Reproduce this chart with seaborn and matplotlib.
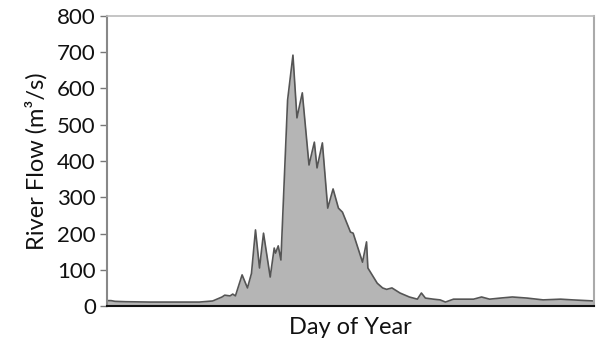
import matplotlib
matplotlib.use("Agg")
import matplotlib.pyplot as plt
import seaborn as sns
import pandas as pd

days = [1, 4, 7, 15, 33, 50, 70, 80, 87, 89, 93, 95, 97, 102, 106, 109, 112, 115,
        118, 123, 126, 127, 129, 131, 136, 140, 143, 145, 147, 152, 156, 158, 162,
        166, 170, 174, 177, 183, 185, 192, 195, 196, 203, 207, 210, 214, 220, 227, 233,
        236, 239, 245, 250, 254, 260, 267, 275, 281, 287, 295, 304, 315, 327, 340,
        349, 365]
flow = [15, 15, 13, 12, 11, 11, 11, 14, 25, 30, 28, 33, 28, 86, 50, 90, 210, 105,
        201, 80, 160, 146, 166, 127, 568, 692, 519, 554, 588, 389, 452, 381, 450,
        270, 323, 270, 259, 204, 201, 121, 177, 105, 63, 50, 46, 50, 36, 25, 19,
        36, 22, 19, 17, 11, 19, 19, 19, 25, 19, 22, 25, 22, 17, 19,
        17, 14]
yticks = [0, 100, 200, 300, 400, 500, 600, 700, 800]

df = pd.DataFrame({"Day": days, "Flow": flow})

sns.set_style("white")
plt.rcParams["font.family"] = ["Lato", "DejaVu Sans"]

fig = plt.figure(figsize=(5.96, 3.47), dpi=100)
ax = fig.add_axes([0.1795, 0.118, 0.8171, 0.836])

ax.fill_between(df["Day"], df["Flow"], 0, color="#b5b5b5", linewidth=0)
sns.lineplot(data=df, x="Day", y="Flow", ax=ax, color="#555555", linewidth=1.2)

ax.set_xlim(1, 365)
ax.set_ylim(0, 800)
ax.set_yticks(yticks)
ax.set_xticks([])
ax.tick_params(axis="y", which="both", left=True, length=5, width=1, color="#777777",
               pad=3, labelsize=16, labelcolor="#111111")
ax.set_xlabel("Day of Year", fontsize=17, color="#111111", labelpad=8)
ax.set_ylabel("River Flow (m³/s)", fontsize=17, color="#111111", labelpad=7)

ax.spines["left"].set_color("#888888")
ax.spines["left"].set_linewidth(1.5)
ax.spines["bottom"].set_color("#111111")
ax.spines["bottom"].set_linewidth(1.5)
ax.spines["top"].set_color("#bbbbbb")
ax.spines["top"].set_linewidth(1.2)
ax.spines["right"].set_color("#aaaaaa")
ax.spines["right"].set_linewidth(1.5)

fig.savefig("out.png", dpi=100)
